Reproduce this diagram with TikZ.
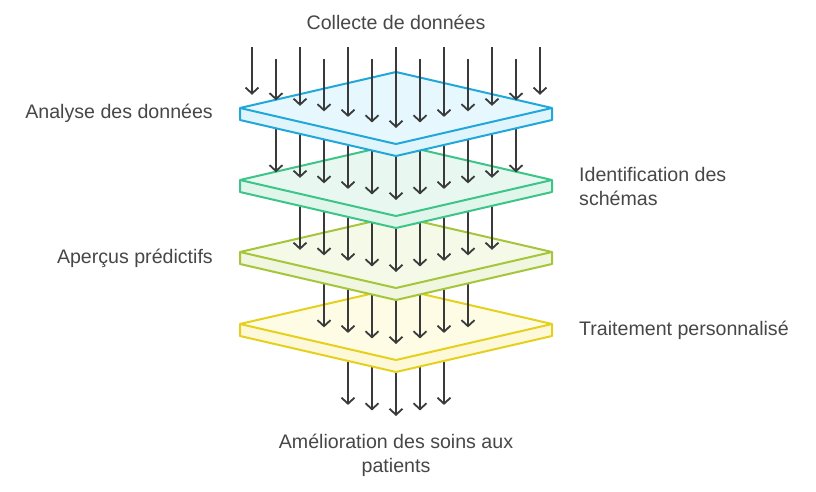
\documentclass[tikz,border=0pt]{standalone}
\usepackage{fontspec}
\setmainfont{Liberation Sans}
\usetikzlibrary{arrows.meta}
\definecolor{txt}{HTML}{474747}
\definecolor{arr}{HTML}{3A3A3A}
\definecolor{s0}{HTML}{22A7DB}\definecolor{f0}{HTML}{E6F8FD}\definecolor{g0}{HTML}{E0F5FB}
\definecolor{s1}{HTML}{3DC488}\definecolor{f1}{HTML}{E8F8F0}\definecolor{g1}{HTML}{E1F6EA}
\definecolor{s2}{HTML}{A5C63A}\definecolor{f2}{HTML}{F4F9E8}\definecolor{g2}{HTML}{F0F6DF}
\definecolor{s3}{HTML}{E6D01E}\definecolor{f3}{HTML}{FEFCE4}\definecolor{g3}{HTML}{FDF9D8}
\tikzset{
  flow/.style={draw=arr, line width=1.8pt, -{Straight Barb[length=6pt,width=13pt,line width=1.8pt]}},
  lbl/.style={text=txt, font=\fontsize{19.6}{24}\selectfont, inner sep=0pt},
}
\newcommand\arrowrow[1]{%
  \pgfmathtruncatemacro\nn{6-#1}%
  \foreach \i in {-\nn,...,\nn}{%
    \pgfmathsetmacro\xx{396+24*\i}%
    \pgfmathsetmacro\tipy{128-0.2308*abs(24*\i)+72*#1}%
    \ifnum#1=0
      \pgfmathsetmacro\sy{mod(abs(\i),2)==1 ? 59 : 47}%
    \else
      \pgfmathsetmacro\sy{144+72*(#1-1)-0.2308*abs(24*\i)-3}%
    \fi
    \coordinate (s#1\i) at (\xx,\sy);
    \coordinate (e#1\i) at (\xx,\tipy);
    \draw[flow] (s#1\i) -- (e#1\i);
  }%
}
\newcommand\plate[1]{%
  \begin{scope}[shift={(0,72*#1)}]
    \coordinate (T#1) at (396,72);
    \coordinate (L#1) at (240,108);
    \coordinate (B#1) at (396,144);
    \coordinate (R#1) at (552,108);
    \coordinate (LL#1) at (240,120);
    \coordinate (BB#1) at (396,156);
    \coordinate (RR#1) at (552,120);
    \fill[g#1] (L#1) -- (B#1) -- (R#1) -- (RR#1) -- (BB#1) -- (LL#1) -- cycle;
    \fill[f#1] (T#1) -- (L#1) -- (B#1) -- (R#1) -- cycle;
    \draw[s#1, line width=2pt, line join=round] (T#1) -- (L#1) -- (LL#1) -- (BB#1) -- (RR#1) -- (R#1) -- cycle;
    \draw[s#1, line width=2pt, line join=round] (L#1) -- (B#1) -- (R#1);
  \end{scope}%
}
\begin{document}
\begin{tikzpicture}[x=1pt,y=-1pt]
\useasboundingbox (0,0) rectangle (816,492);
\fill[white] (0,0) rectangle (816,492);
\arrowrow{4}
\plate{3}
\arrowrow{3}
\plate{2}
\arrowrow{2}
\plate{1}
\arrowrow{1}
\plate{0}
\arrowrow{0}
\node[lbl] (title) at (396,22) {Collecte de données};
\node[lbl, anchor=east] (l1) at (213,113) {Analyse des données};
\node[lbl, anchor=west, align=left] (r2) at (579,186) {Identification des\\schémas};
\node[lbl, anchor=east] (l3) at (213,258) {Aperçus prédictifs};
\node[lbl, anchor=west] (r4) at (579,330) {Traitement personnalisé};
\node[lbl, align=center] (bot) at (396,455) {Amélioration des soins aux\\patients};
\end{tikzpicture}
\end{document}
